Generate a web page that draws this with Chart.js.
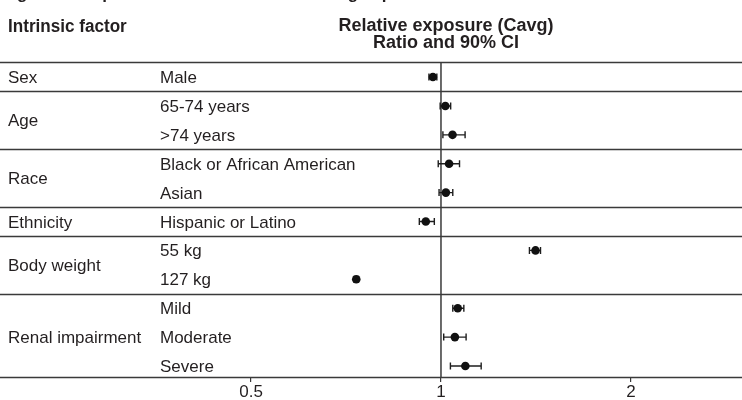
<!DOCTYPE html>
<html>
<head>
<meta charset="utf-8">
<script src="https://cdn.jsdelivr.net/npm/chart.js@4"></script>
<style>
  body { margin: 0; background: #fff; }
  canvas { display: block; }
</style>
</head>
<body>
<canvas id="myChart" width="742" height="400"></canvas>
<script>
// datos de la grafica
var categories = ['Male', '65-74 years', '>74 years', 'Black or African American', 'Asian',
  'Hispanic or Latino', '55 kg', '127 kg', 'Mild', 'Moderate', 'Severe'];
var factors = ['Sex', 'Age', 'Age', 'Race', 'Race', 'Ethnicity', 'Body weight', 'Body weight',
  'Renal impairment', 'Renal impairment', 'Renal impairment'];
var ratio  = [0.971, 1.016, 1.043, 1.030, 1.018, 0.946, 1.412, 0.734, 1.063, 1.052, 1.093];
var ciLow  = [0.957, 0.997, 1.007, 0.990, 0.993, 0.924, 1.381, 0.728, 1.044, 1.010, 1.035];
var ciHigh = [0.985, 1.036, 1.092, 1.070, 1.044, 0.976, 1.438, 0.740, 1.087, 1.096, 1.158];
var xTicks = [0.5, 1, 2];

var ink = '#231f20';
var lineCol = '#3a3a3a';

// texto comprimido horizontalmente (fuente condensada)
function drawText(ctx, text, x, y, font, align, sx) {
  ctx.save();
  ctx.font = font;
  ctx.fillStyle = ink;
  ctx.textBaseline = 'alphabetic';
  ctx.translate(x, y);
  ctx.scale(sx, 1);
  ctx.textAlign = align;
  ctx.fillText(text, 0, 0);
  ctx.restore();
}

var forestPlugin = {
  id: 'forest',
  beforeDatasetsDraw: function(chart) {
    var ctx = chart.ctx, xs = chart.scales.x, ys = chart.scales.y, area = chart.chartArea;
    ctx.save();
    ctx.strokeStyle = lineCol;
    ctx.lineWidth = 1.5;
    // linea superior, separadores entre factores y linea inferior
    var seps = [ys.min];
    for (var i = 1; i < factors.length; i++) {
      if (factors[i] !== factors[i - 1]) seps.push(i - 0.5);
    }
    seps.push(ys.max);
    seps.forEach(function(v) {
      var y = Math.round(ys.getPixelForValue(v)) + 0.5;
      ctx.beginPath();
      ctx.moveTo(0, y);
      ctx.lineTo(chart.width, y);
      ctx.stroke();
    });
    // linea de referencia en 1
    var x1 = xs.getPixelForValue(1);
    ctx.beginPath();
    ctx.moveTo(x1, area.top);
    ctx.lineTo(x1, area.bottom);
    ctx.stroke();
    // intervalos de confianza
    ctx.strokeStyle = '#1e1e1e';
    ctx.lineWidth = 1.4;
    for (var j = 0; j < ratio.length; j++) {
      var y = ys.getPixelForValue(j);
      var a = xs.getPixelForValue(ciLow[j]), b = xs.getPixelForValue(ciHigh[j]);
      ctx.beginPath();
      ctx.moveTo(a, y); ctx.lineTo(b, y);
      ctx.moveTo(a, y - 3.5); ctx.lineTo(a, y + 3.5);
      ctx.moveTo(b, y - 3.5); ctx.lineTo(b, y + 3.5);
      ctx.stroke();
    }
    ctx.restore();
  },
  afterDraw: function(chart) {
    var ctx = chart.ctx, ys = chart.scales.y;
    var reg = '17px "Liberation Sans", Arial, sans-serif';
    var bold = 'bold 18px "Liberation Sans", Arial, sans-serif';
    // titulo (cortado arriba)
    drawText(ctx, 'Figure 3   Impact of intrinsic factors on drug exposure', 2, -1, 'bold 17px "Liberation Sans", Arial, sans-serif', 'left', 1);
    // cabeceras
    drawText(ctx, 'Intrinsic factor', 8, 32, bold, 'left', 0.95);
    drawText(ctx, 'Relative exposure (Cavg)', 446, 31, bold, 'center', 1.0);
    drawText(ctx, 'Ratio and 90% CI', 446, 48, bold, 'center', 1.0);
    // etiquetas de cada fila
    for (var i = 0; i < categories.length; i++) {
      drawText(ctx, categories[i], 160, ys.getPixelForValue(i) + 6, reg, 'left', 1.0);
    }
    // etiquetas de grupo centradas en sus filas
    var seen = {};
    factors.forEach(function(f, i) {
      if (!seen[f]) seen[f] = [];
      seen[f].push(i);
    });
    Object.keys(seen).forEach(function(f) {
      var rows = seen[f];
      var mid = (rows[0] + rows[rows.length - 1]) / 2;
      drawText(ctx, f, 8, ys.getPixelForValue(mid) + 6, reg, 'left', 1.0);
    });
  }
};

var ctx = document.getElementById('myChart').getContext('2d');
var myChart = new Chart(ctx, {
  type: 'scatter',
  data: {
    datasets: [{
      data: ratio.map(function(v, i) { return { x: v, y: i }; }),
      pointRadius: 4.3,
      pointHoverRadius: 4.3,
      backgroundColor: '#111',
      borderWidth: 0
    }]
  },
  options: {
    responsive: false,
    devicePixelRatio: 1,
    animation: false,
    layout: { autoPadding: false, padding: { top: 62, left: 0, right: 0, bottom: 0 } },
    plugins: { legend: { display: false }, tooltip: { enabled: false } },
    scales: {
      x: {
        type: 'logarithmic',
        min: 0.2,
        max: 3,
        afterBuildTicks: function(scale) {
          scale.ticks = xTicks.map(function(v) { return { value: v }; });
        },
        afterFit: function(scale) { scale.height = 23; },
        grid: { display: true, drawOnChartArea: false, drawTicks: true, tickLength: 5, color: lineCol, lineWidth: 1.2 },
        border: { display: false },
        ticks: {
          padding: 0,
          color: ink,
          font: { family: '"Liberation Sans", Arial, sans-serif', size: 17 },
          callback: function(v) { return String(v); },
          maxRotation: 0,
          autoSkip: false
        }
      },
      y: {
        type: 'linear',
        reverse: true,
        min: -0.52,
        max: 10.38,
        display: false
      }
    }
  },
  plugins: [forestPlugin]
});
</script>
</body>
</html>
